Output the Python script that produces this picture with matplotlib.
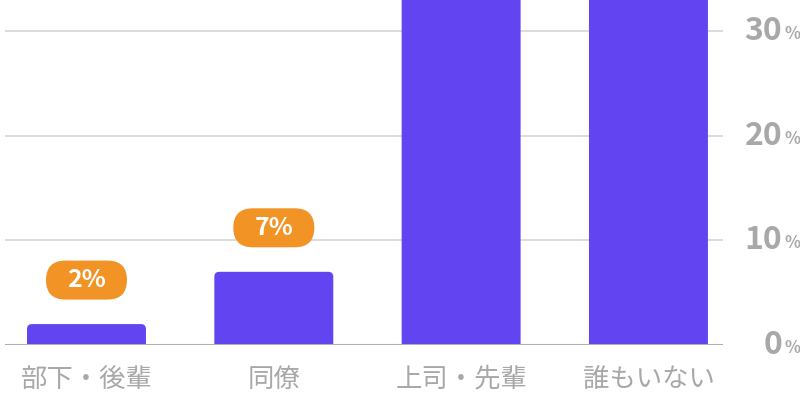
import matplotlib
matplotlib.use("Agg")
import matplotlib.pyplot as plt
from matplotlib.patches import FancyBboxPatch

plt.rcParams['font.family'] = ['Noto Sans CJK JP', 'DejaVu Sans']

categories = ['部下・後輩', '同僚', '上司・先輩', '誰もいない']
values = [2, 7, 41, 48]
label_cats = [0, 1]
yticks = [0, 10, 20, 30]

bar_color = '#6244F0'
pill_color = '#F29325'
text_grey = '#A8A8A8'

fig = plt.figure(figsize=(8, 4.17), dpi=100)
ax = fig.add_axes([0.00625, 0.1727, 0.8975, 0.8273])

x = list(range(len(categories)))
ax.set_xlim(-0.435, 3.398)
ax.set_ylim(0, 33.0)

# pixel sizes of one data unit
fig.canvas.draw()
px_x = ax.transData.transform((1, 0))[0] - ax.transData.transform((0, 0))[0]
px_y = ax.transData.transform((0, 1))[1] - ax.transData.transform((0, 0))[1]
aspect = px_x / px_y

# bars with rounded top corners
bars = ax.bar(x, values, width=0.635, color=bar_color, zorder=3)
r = 5 / px_x
for b in bars:
    b.set_visible(False)
    bx, bw, bh = b.get_x(), b.get_width(), b.get_height()
    ax.add_patch(FancyBboxPatch((bx + r, -r * aspect), bw - 2 * r, bh,
                                boxstyle=f'round,pad={r},rounding_size={r}',
                                mutation_aspect=aspect, fc=bar_color, ec='none',
                                zorder=3))

for t in yticks:
    ax.axhline(t, color='#d9d9dc', lw=1.3, zorder=1)
ax.axhline(0, color='#b0b0b0', lw=2.2, zorder=4)

for s in ax.spines.values():
    s.set_visible(False)
ax.set_yticks([])
ax.set_xticks(x)
ax.set_xticklabels(categories, fontsize=19, color=text_grey)
ax.tick_params(axis='x', length=0, pad=15)

# right-side y labels: big number + small %
for t in yticks:
    ax.annotate(str(t), xy=(1, t), xycoords=('axes fraction', 'data'),
                xytext=(42.5, 0), textcoords='offset points',
                ha='right', va='center', fontsize=23, fontweight='bold',
                color=text_grey)
    ax.annotate('%', xy=(1, t), xycoords=('axes fraction', 'data'),
                xytext=(44, -2), textcoords='offset points',
                ha='left', va='center', fontsize=12, fontweight='bold',
                color=text_grey)

# orange pill value labels
pw, ph, gap = 81, 39, 44  # px
for i in label_cats:
    cy = values[i] + gap / px_y
    w = pw / px_x
    h = ph / px_y
    rad = (ph / 2) / px_x
    ax.add_patch(FancyBboxPatch((x[i] - w / 2 + rad, cy - h / 2 + rad * aspect),
                                w - 2 * rad, h - 2 * rad * aspect,
                                boxstyle=f'round,pad={rad},rounding_size={rad}',
                                mutation_aspect=aspect, fc=pill_color, ec='none',
                                zorder=5))
    ax.text(x[i], cy, f'{values[i]}%', ha='center', va='center',
            fontsize=18, fontweight='bold', color='white', zorder=6)

fig.savefig('out.png', dpi=100)
